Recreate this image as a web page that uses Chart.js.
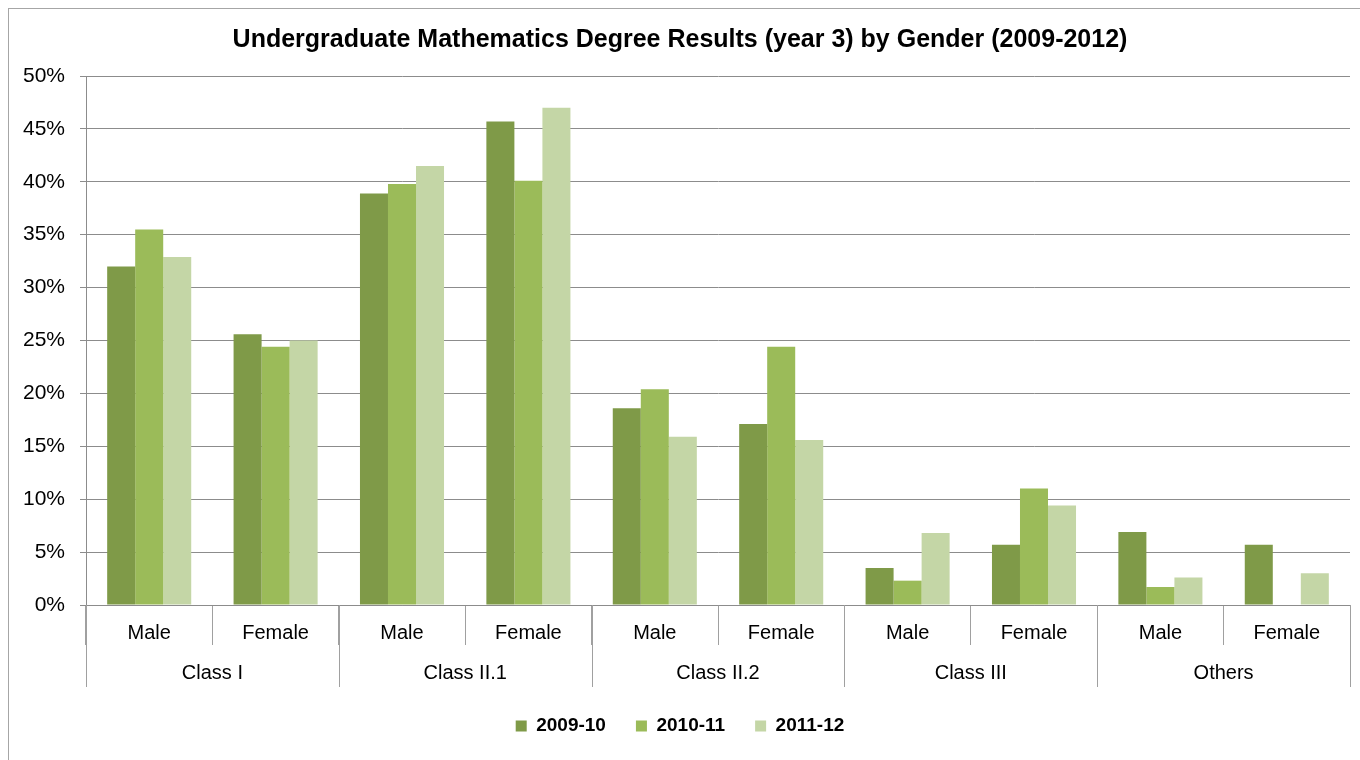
<!DOCTYPE html>
<html>
<head>
<meta charset="utf-8">
<script src="https://cdn.jsdelivr.net/npm/chart.js@4.4.1/dist/chart.umd.min.js"></script>
<style>
  html, body { margin: 0; padding: 0; background: #ffffff; overflow: hidden; }
  #wrap { position: relative; width: 1360px; height: 760px; }
  #frame { position: absolute; left: 8px; top: 8px; width: 1400px; height: 800px; border: 1px solid #a6a6a6; box-sizing: border-box; }
  canvas { position: absolute; left: 0; top: 0; }
</style>
</head>
<body>
<div id="wrap">
  <div id="frame"></div>
  <canvas id="c" width="1360" height="760"></canvas>
</div>
<script>
const titleText = 'Undergraduate Mathematics Degree Results (year 3) by Gender (2009-2012)';
const genders = ['Male', 'Female', 'Male', 'Female', 'Male', 'Female', 'Male', 'Female', 'Male', 'Female'];
const classes = ['Class I', 'Class II.1', 'Class II.2', 'Class III', 'Others'];
const seriesNames = ['2009-10', '2010-11', '2011-12'];
const values0910 = [32.0, 25.6, 38.9, 45.7, 18.6, 17.1, 3.5, 5.7, 6.9, 5.7];
const values1011 = [35.5, 24.4, 39.8, 40.1, 20.4, 24.4, 2.3, 11.0, 1.7, 0];
const values1112 = [32.9, 25.0, 41.5, 47.0, 15.9, 15.6, 6.8, 9.4, 2.6, 3.0];
const yTicks = [0, 5, 10, 15, 20, 25, 30, 35, 40, 45, 50];
const colors = ['#7f9a48', '#9bbb59', '#c4d6a6'];

const groupPlugin = {
  id: 'groupLabels',
  afterDraw(chart) {
    const x = chart.scales.x;
    const ctx = chart.ctx;
    const top = x.top;
    ctx.save();
    ctx.strokeStyle = '#a0a0a0';
    ctx.lineWidth = 1;
    for (let k = 0; k <= classes.length; k++) {
      const px = Math.round(x.getPixelForValue(2 * k - 0.5)) + 0.5;
      ctx.beginPath();
      ctx.moveTo(px, top);
      ctx.lineTo(px, top + 82);
      ctx.stroke();
    }
    ctx.fillStyle = '#000000';
    ctx.font = '20px "Liberation Sans", Arial, sans-serif';
    ctx.textAlign = 'center';
    ctx.textBaseline = 'middle';
    classes.forEach((c, k) => {
      ctx.fillText(c, x.getPixelForValue(2 * k + 0.5), top + 68);
    });
    ctx.restore();
  }
};

new Chart(document.getElementById('c'), {
  type: 'bar',
  data: {
    labels: genders,
    datasets: [
      { label: seriesNames[0], data: values0910, backgroundColor: colors[0] },
      { label: seriesNames[1], data: values1011, backgroundColor: colors[1] },
      { label: seriesNames[2], data: values1112, backgroundColor: colors[2] }
    ]
  },
  options: {
    responsive: false,
    animation: false,
    devicePixelRatio: 1,
    layout: { padding: { left: 10, right: 10, top: 0, bottom: 14.5 } },
    datasets: { bar: { categoryPercentage: 0.665, barPercentage: 1.0 } },
    plugins: {
      title: {
        display: true,
        text: titleText,
        color: '#000000',
        font: { family: '"Liberation Sans", Arial, sans-serif', size: 25, weight: 'bold', lineHeight: 1.2 },
        padding: { top: 25, bottom: 21 }
      },
      legend: {
        display: true,
        position: 'bottom',
        labels: {
          color: '#000000',
          boxWidth: 11,
          boxHeight: 11,
          padding: 30,
          font: { family: '"Liberation Sans", Arial, sans-serif', size: 19, weight: 'bold' }
        }
      },
      tooltip: { enabled: false }
    },
    scales: {
      x: {
        grid: { display: true, drawOnChartArea: false, drawTicks: true, tickLength: 40, color: '#a0a0a0', offset: true },
        border: { display: true, color: '#8c8c8c' },
        ticks: { color: '#000000', autoSkip: false, maxRotation: 0, padding: -24,
                 font: { family: '"Liberation Sans", Arial, sans-serif', size: 20 } },
        afterFit(scale) { scale.height = 81.5; }
      },
      y: {
        min: 0, max: 50,
        afterBuildTicks(scale) { scale.ticks = yTicks.map(v => ({ value: v })); },
        grid: { color: '#8c8c8c', tickLength: 6 },
        border: { display: true, color: '#8c8c8c' },
        ticks: { color: '#000000', padding: 15, callback: v => v + '%',
                 font: { family: '"Liberation Sans", Arial, sans-serif', size: 21 } },
        afterFit(scale) { scale.width = 76; }
      }
    }
  },
  plugins: [groupPlugin]
});
</script>
</body>
</html>
